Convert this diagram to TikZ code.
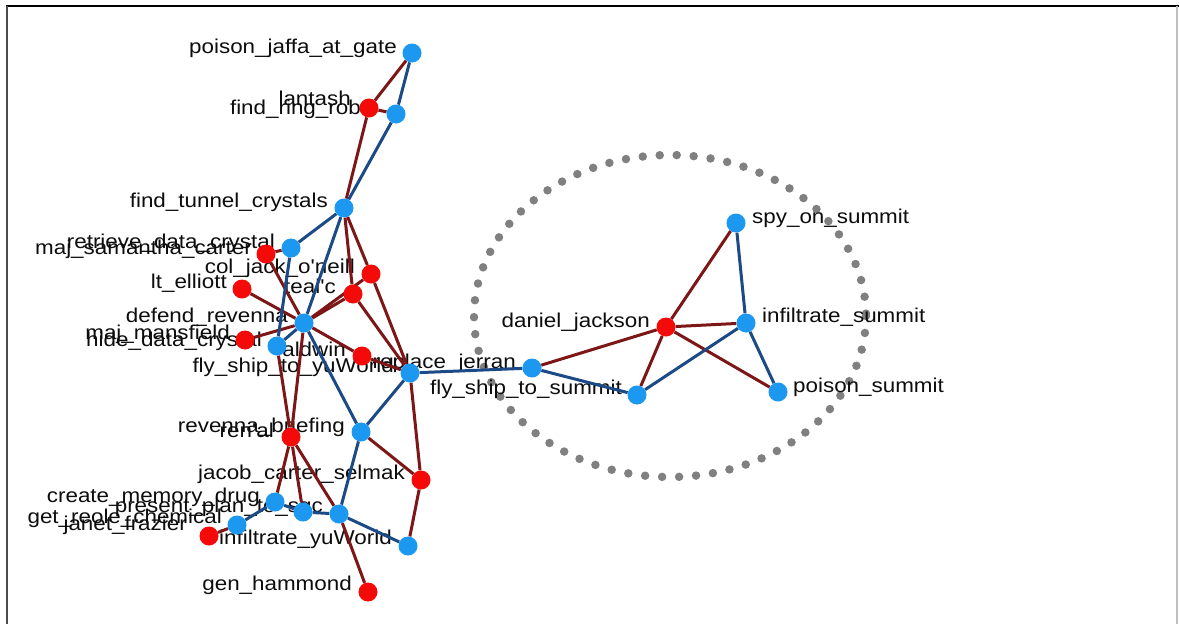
\documentclass[tikz,border=0pt]{standalone}
\usepackage{fontspec}
\newfontfamily\labfont[FakeStretch=1.12,Ligatures=TeXOff]{Liberation Sans}
\definecolor{nred}{RGB}{245,10,10}
\definecolor{nblue}{RGB}{28,152,240}
\definecolor{ered}{RGB}{125,22,22}
\definecolor{eblue}{RGB}{28,74,135}
\definecolor{dotgray}{RGB}{128,128,128}
\pgfdeclarelayer{lablayer}
\pgfdeclarelayer{edgelayer}
\pgfsetlayers{lablayer,edgelayer,main}
\tikzset{
  pnode/.style={circle, fill=nred, minimum size=19pt, inner sep=0pt},
  tnode/.style={circle, fill=nblue, minimum size=19pt, inner sep=0pt},
  redge/.style={draw=ered, line width=3pt},
  bedge/.style={draw=eblue, line width=3pt},
  lab/.style={font=\labfont\fontsize{20}{22}\selectfont, inner sep=0pt, text=black!95, anchor=base east},
  rlab/.style={lab, anchor=base west},
  dots/.style={draw=dotgray, line width=8.5pt, line cap=round, dash pattern=on 0pt off 17pt},
}
\begin{document}
\begin{tikzpicture}[x=1pt,y=-1pt]
\begin{pgfonlayer}{lablayer}
\useasboundingbox (0,0) rectangle (1179,624);
\fill[white] (0,0) rectangle (1179,624);
% frame
\draw[black, line width=2pt] (6,6) -- (1179,6);
\draw[black!70, line width=1.5pt] (7,6) -- (7,624);
\draw[black!25, line width=1.5pt] (1177,6) -- (1177,624);
% dotted ellipse
\draw[dots] (670,316) ellipse [x radius=196, y radius=161];
% labels
\node[lab] (l-pjag) at (397,53) {poison\_jaffa\_at\_gate};
\node[lab] (l-frr) at (361,114) {find\_ring\_rob};
\node[lab] (l-lan) at (351,105) {lantash};
\node[lab] (l-ftc) at (328,207) {find\_tunnel\_crystals};
\node[lab] (l-msc) at (252,254) {maj\_samantha\_carter};
\node[lab] (l-rdc) at (275,248) {retrieve\_data\_crystal};
\node[lab] (l-cjo) at (355,273) {col\_jack\_o'neill};
\node[lab] (l-tea) at (336,293) {teal'c};
\node[lab] (l-lte) at (227,288) {lt\_elliott};
\node[lab] (l-dr) at (288,322) {defend\_revenna};
\node[lab] (l-mm) at (230,339) {maj\_mansfield};
\node[lab] (l-hdc) at (262,346) {hide\_data\_crystal};
\node[lab] (l-ald) at (346,356) {aldwin};
\node[lab] (l-fsty) at (394,372) {fly\_ship\_to\_yuWorld};
\node[lab] (l-rj) at (516,368) {replace\_jerran};
\node[lab] (l-fsts) at (622,394) {fly\_ship\_to\_summit};
\node[lab] (l-dj) at (650,327) {daniel\_jackson};
\node[lab] (l-rb) at (345,432) {revenna\_briefing};
\node[lab] (l-ren) at (274,437) {ren'al};
\node[lab] (l-jcs) at (405,479) {jacob\_carter\_selmak};
\node[lab] (l-cmd) at (260,502) {create\_memory\_drug};
\node[lab] (l-pps) at (323,512) {present\_plan\_to\_sgc};
\node[lab] (l-grc) at (222,523) {get\_reole\_chemical};
\node[lab] (l-jf) at (187,530) {janet\_frazier};
\node[lab] (l-iyw) at (392,544) {infiltrate\_yuWorld};
\node[lab] (l-gh) at (352,590) {gen\_hammond};
\node[rlab] (l-sos) at (752,223) {spy\_on\_summit};
\node[rlab] (l-is) at (762,322) {infiltrate\_summit};
\node[rlab] (l-ps) at (793,392) {poison\_summit};
\end{pgfonlayer}

% task nodes (blue)
\node[tnode] (pjag) at (412,53) {};
\node[tnode] (frr) at (396,114) {};
\node[tnode] (ftc) at (344,208) {};
\node[tnode] (rdc) at (291,248) {};
\node[tnode] (dr) at (304,323) {};
\node[tnode] (hdc) at (277,346) {};
\node[tnode] (fsty) at (410,373) {};
\node[tnode] (rj) at (532,368) {};
\node[tnode] (rb) at (361,432) {};
\node[tnode] (cmd) at (275,502) {};
\node[tnode] (xx) at (303,512) {};
\node[tnode] (pps) at (339,514) {};
\node[tnode] (grc) at (237,525) {};
\node[tnode] (iyw) at (408,546) {};
\node[tnode] (fsts) at (637,395) {};
\node[tnode] (sos) at (736,223) {};
\node[tnode] (is) at (746,323) {};
\node[tnode] (ps) at (778,392) {};
% person nodes (red)
\node[pnode] (lan) at (369,108) {};
\node[pnode] (msc) at (266,254) {};
\node[pnode] (cjo) at (371,274) {};
\node[pnode] (tea) at (353,294) {};
\node[pnode] (lte) at (242,289) {};
\node[pnode] (mm) at (245,340) {};
\node[pnode] (ald) at (362,356) {};
\node[pnode] (ren) at (291,437) {};
\node[pnode] (jcs) at (421,480) {};
\node[pnode] (jf) at (209,536) {};
\node[pnode] (gh) at (368,592) {};
\node[pnode] (dj) at (666,327) {};

\begin{pgfonlayer}{edgelayer}
% person-task edges
\foreach \a/\b in {lan/pjag, lan/frr, lan/ftc, msc/rdc, msc/dr,
  cjo/ftc, cjo/dr, cjo/fsty, tea/ftc, tea/dr, tea/fsty, lte/dr, mm/dr,
  ald/dr, ald/fsty, ren/hdc, ren/dr, ren/cmd, ren/xx, ren/pps,
  jcs/rb, jcs/fsty, jcs/iyw, jf/grc, gh/pps,
  dj/rj, dj/sos, dj/is, dj/ps, dj/fsts}
  \draw[redge] (\a) -- (\b);
% task-task edges
\foreach \a/\b in {pjag/frr, frr/ftc, ftc/rdc, ftc/dr, rdc/hdc, hdc/dr,
  dr/rb, rb/fsty, fsty/rj, rj/fsts, fsts/is, is/sos, is/ps, rb/pps,
  pps/iyw, pps/xx, xx/cmd, cmd/grc}
  \draw[bedge] (\a) -- (\b);
\end{pgfonlayer}
\end{tikzpicture}
\end{document}
